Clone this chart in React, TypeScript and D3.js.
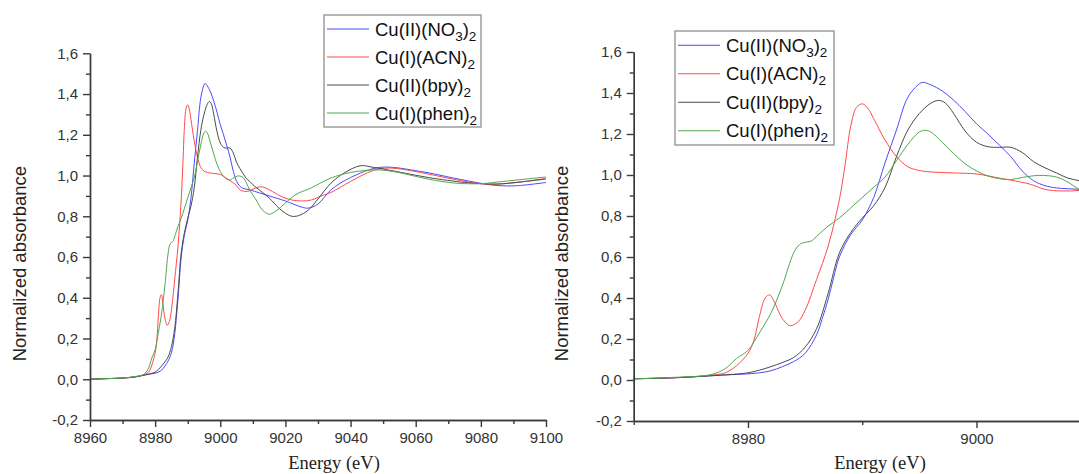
import { useRef, useEffect } from 'react';
import * as d3 from 'd3';

type Pt = [number, number];

// Cu K-edge XANES, normalized absorbance vs energy (eV)
const NO3: Pt[] = [
  [8960, 0], [8965, 0.003], [8970, 0.006], [8974, 0.012], [8977, 0.022], [8980, 0.03],
  [8981, 0.035], [8982, 0.045], [8983, 0.065], [8984, 0.09], [8985, 0.13], [8986, 0.22],
  [8986.5, 0.3], [8987, 0.39], [8987.5, 0.5], [8988, 0.6], [8989, 0.71], [8990, 0.78],
  [8991, 0.89], [8992, 1.06], [8993, 1.22], [8994, 1.38], [8995, 1.445], [8995.3, 1.452],
  [8996, 1.44], [8997, 1.41], [8998, 1.365], [8999, 1.31], [9000, 1.25], [9001, 1.2],
  [9002, 1.146], [9003, 1.09], [9004, 1.02], [9005, 0.972], [9006, 0.948], [9007, 0.937],
  [9009, 0.93], [9012, 0.915], [9015, 0.9], [9020, 0.875], [9025, 0.845], [9027, 0.84],
  [9030, 0.86], [9034, 0.93], [9040, 0.99], [9049, 1.04], [9061.5, 1.02], [9071.5, 0.988],
  [9080, 0.962], [9085, 0.951], [9091, 0.95], [9100, 0.966],
];

const ACN: Pt[] = [
  [8960, 0], [8965, 0.003], [8970, 0.006], [8974, 0.012], [8977, 0.025], [8978, 0.035],
  [8979, 0.07], [8980, 0.13], [8980.5, 0.19], [8981, 0.31], [8981.5, 0.4], [8981.9, 0.415],
  [8982.4, 0.37], [8983, 0.3], [8983.7, 0.265], [8984.4, 0.285], [8985, 0.34], [8986, 0.49],
  [8987, 0.65], [8988, 0.88], [8988.5, 1.05], [8989, 1.24], [8989.5, 1.33], [8990, 1.347],
  [8990.5, 1.325], [8991, 1.275], [8992, 1.17], [8993, 1.09], [8994, 1.04], [8995, 1.022],
  [8996, 1.015], [8998, 1.01], [9000, 1.005], [9002, 0.985], [9003, 0.975], [9004.7, 0.955],
  [9006, 0.93], [9007.5, 0.922], [9009, 0.925], [9011, 0.94], [9013, 0.944], [9016, 0.922],
  [9019, 0.895], [9022, 0.88], [9025, 0.875], [9028, 0.88], [9031, 0.9], [9034, 0.917],
  [9040, 0.971], [9047, 1.025], [9052, 1.037], [9061.5, 1.015], [9071.5, 0.982], [9080, 0.96],
  [9085, 0.958], [9092, 0.968], [9100, 0.986],
];

const BPY: Pt[] = [
  [8960, 0], [8965, 0.003], [8970, 0.006], [8974, 0.012], [8978, 0.025], [8980, 0.035],
  [8981, 0.048], [8982, 0.065], [8983, 0.085], [8984, 0.11], [8985, 0.16], [8986, 0.25],
  [8987, 0.42], [8988, 0.62], [8989, 0.72], [8990, 0.79], [8991, 0.85], [8992, 0.94],
  [8993, 1.09], [8994, 1.22], [8995, 1.3], [8996, 1.35], [8996.7, 1.364], [8997.3, 1.35],
  [8998, 1.3], [8999, 1.215], [9000, 1.16], [9001, 1.138], [9002, 1.135], [9003, 1.135],
  [9004, 1.11], [9005, 1.065], [9006, 1.035], [9007, 1.01], [9008, 0.985], [9009, 0.972],
  [9010, 0.955], [9015, 0.89], [9018, 0.84], [9020, 0.815], [9022, 0.8], [9024, 0.803],
  [9027, 0.83], [9030, 0.885], [9034, 0.963], [9038, 1.012], [9043, 1.048], [9047, 1.04],
  [9054, 1.02], [9064, 0.99], [9075, 0.966], [9080, 0.96], [9085, 0.958], [9092, 0.968],
  [9100, 0.983],
];

const PHEN: Pt[] = [
  [8960, 0], [8965, 0.003], [8970, 0.006], [8974, 0.014], [8976, 0.02], [8977, 0.03],
  [8978, 0.055], [8979, 0.105], [8980, 0.145], [8981, 0.23], [8982, 0.325], [8983, 0.46],
  [8984, 0.62], [8984.5, 0.66], [8985, 0.672], [8985.5, 0.677], [8986, 0.7], [8987, 0.75],
  [8988, 0.79], [8989, 0.84], [8990, 0.89], [8991, 0.94], [8992, 0.99], [8993, 1.07],
  [8994, 1.15], [8995, 1.21], [8995.5, 1.218], [8996, 1.21], [8997, 1.16], [8998, 1.105],
  [8999, 1.055], [9000, 1.02], [9001, 0.995], [9002, 0.982], [9003, 0.978], [9004, 0.988],
  [9005.5, 0.998], [9007, 0.99], [9008, 0.965], [9009, 0.93], [9011, 0.88], [9013, 0.83],
  [9015, 0.81], [9017, 0.825], [9020, 0.865], [9023, 0.905], [9028, 0.94], [9034, 0.988],
  [9040, 1.015], [9048, 1.028], [9054, 1.017], [9064, 0.982], [9072, 0.963], [9080, 0.96],
  [9085, 0.968], [9100, 0.993],
];

// legend labels: [text, isSubscript]
const LABELS: [string, boolean][][] = [
  [['Cu(II)(NO', false], ['3', true], [')', false], ['2', true]],
  [['Cu(I)(ACN)', false], ['2', true]],
  [['Cu(II)(bpy)', false], ['2', true]],
  [['Cu(I)(phen)', false], ['2', true]],
];
const COLORS = ['#4a4aff', '#ff4a4a', '#4a4a4a', '#4fa84f'];
const SERIES = [NO3, ACN, BPY, PHEN];

const Y_MAJOR = d3.range(-0.2, 1.61, 0.2).map(v => +v.toFixed(1));
const Y_MINOR = d3.range(-0.1, 1.51, 0.2).map(v => +v.toFixed(1));

const PANELS = [
  {
    id: 'full', xDomain: [8960, 9100], xRange: [90, 546], yRange: [420, 53.3],
    xMajor: d3.range(8960, 9101, 20), xMinor: d3.range(8970, 9091, 20),
    ylabX: 20, xlabX: 334, legend: { x: 324, y: 15, w: 157, h: 112 },
  },
  {
    id: 'zoom', xDomain: [8970, 9009], xRange: [633.75, 1079.3], yRange: [421, 52],
    xMajor: [8980, 9000], xMinor: [8970, 8990],
    ylabX: 562, xlabX: 880, legend: { x: 675, y: 31, w: 159, h: 114 },
  },
];

const fmt = (v: number) => v.toFixed(1).replace('.', ',');

export default function App() {
  const ref = useRef<SVGSVGElement>(null);

  useEffect(() => {
    const svg = d3.select(ref.current);
    svg.selectAll('*').remove();
    const ac = '#3a3a3a';
    const sans = '"Liberation Sans", Arial, sans-serif';

    PANELS.forEach(p => {
      const x = d3.scaleLinear().domain(p.xDomain).range(p.xRange);
      const y = d3.scaleLinear().domain([-0.2, 1.6]).range(p.yRange);
      const x0 = p.xRange[0];
      const yb = p.yRange[0];

      const clip = `clip-${p.id}`;
      svg.append('clipPath').attr('id', clip)
        .append('rect').attr('x', x0).attr('y', 0)
        .attr('width', p.xRange[1] - x0).attr('height', yb);

      const line = d3.line<Pt>()
        .x(d => x(d[0])).y(d => y(d[1]))
        .curve(d3.curveCatmullRom.alpha(0.5));

      const lg = svg.append('g').attr('clip-path', `url(#${clip})`);
      SERIES.forEach((s, i) => {
        lg.append('path').datum(s)
          .attr('d', line)
          .attr('fill', 'none')
          .attr('stroke', COLORS[i])
          .attr('stroke-width', 1);
      });

      const style = (s: any) => {
        s.selectAll('text').attr('fill', '#333').style('font-family', sans).style('font-size', '15px');
        s.selectAll('line,path').attr('stroke', ac).attr('stroke-width', 1.4);
      };

      // y axis
      svg.append('g').attr('transform', `translate(${x0},0)`)
        .call(d3.axisLeft(y).tickValues(Y_MINOR).tickSize(4).tickSizeOuter(0).tickFormat(() => ''))
        .call(style);
      svg.append('g').attr('transform', `translate(${x0},0)`)
        .call(d3.axisLeft(y).tickValues(Y_MAJOR).tickSize(7).tickSizeOuter(0).tickPadding(5).tickFormat(fmt))
        .call(style);

      // x axis
      svg.append('g').attr('transform', `translate(0,${yb})`)
        .call(d3.axisBottom(x).tickValues(p.xMinor).tickSize(4).tickSizeOuter(0).tickFormat(() => ''))
        .call(style);
      svg.append('g').attr('transform', `translate(0,${yb})`)
        .call(d3.axisBottom(x).tickValues(p.xMajor).tickSize(7).tickSizeOuter(0).tickPadding(5).tickFormat(d3.format('d')))
        .call(style);

      // axis titles
      svg.append('text')
        .attr('transform', `translate(${p.ylabX + 6},${(y(1.6) + yb) / 2 + 27}) rotate(-90)`)
        .attr('text-anchor', 'middle')
        .attr('fill', '#222')
        .style('font-family', sans).style('font-size', '18.5px')
        .text('Normalized absorbance');
      svg.append('text')
        .attr('x', p.xlabX).attr('y', 469)
        .attr('text-anchor', 'middle')
        .attr('fill', '#222')
        .style('font-family', '"Liberation Serif", "Times New Roman", serif').style('font-size', '18.5px')
        .text('Energy (eV)');

      // legend
      const L = p.legend;
      const leg = svg.append('g');
      leg.append('rect')
        .attr('x', L.x).attr('y', L.y).attr('width', L.w).attr('height', L.h)
        .attr('fill', '#fff').attr('stroke', '#909090').attr('stroke-width', 1.3);
      const rowH = L.h / 4;
      LABELS.forEach((parts, i) => {
        const cy = L.y + rowH * (i + 0.5);
        leg.append('line')
          .attr('x1', L.x + 3).attr('x2', L.x + 45)
          .attr('y1', cy).attr('y2', cy)
          .attr('stroke', COLORS[i]).attr('stroke-width', 1);
        const t = leg.append('text')
          .attr('x', L.x + 51).attr('y', cy + 6.5)
          .attr('fill', '#111')
          .style('font-family', sans).style('font-size', '18.5px');
        let sub = false;
        parts.forEach(([txt, isSub]) => {
          const ts = t.append('tspan').text(txt);
          if (isSub && !sub) ts.attr('dy', 5).style('font-size', '13.5px');
          else if (isSub) ts.style('font-size', '13.5px');
          else if (sub) ts.attr('dy', -5);
          sub = isSub;
        });
      });
    });
  }, []);

  return (
    <svg ref={ref} width={1079} height={474}
      style={{ position: 'absolute', left: 0, top: 0, background: '#fff' }} />
  );
}
